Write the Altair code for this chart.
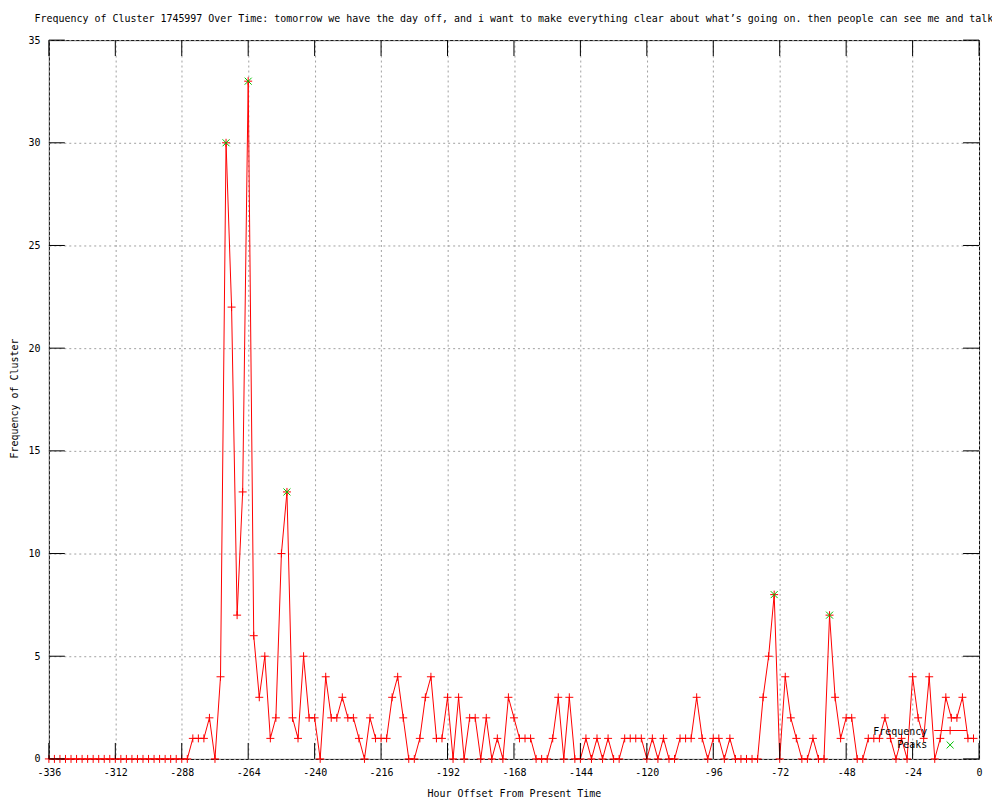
import altair as alt
import pandas as pd

TITLE = ("Frequency of Cluster 1745997 Over Time: tomorrow we have the day off, and i want to make "
         "everything clear about what\u2019s going on. then people can see me and talk")
X_TITLE = "Hour Offset From Present Time"
Y_TITLE = "Frequency of Cluster"

# hour offsets (2-hour bins)
hours = list(range(-336, 0, 2))
frequency = (
    [0] * 26
    + [1, 1, 1, 2, 0, 4, 30, 22, 7, 13]
    + [33, 6, 3, 5, 1, 2, 10, 13, 2, 1]
    + [5, 2, 2, 0, 4, 2, 2, 3, 2, 2]
    + [1, 0, 2, 1, 1, 1, 3, 4, 2, 0]
    + [0, 1, 3, 4, 1, 1, 3, 0, 3, 0]
    + [2, 2, 0, 2, 0, 1, 0, 3, 2, 1]
    + [1, 1, 0, 0, 0, 1, 3, 0, 3, 0]
    + [0, 1, 0, 1, 0, 1, 0, 0, 1, 1]
    + [1, 1, 0, 1, 0, 1, 0, 0, 1, 1]
    + [1, 3, 1, 0, 1, 1, 0, 1, 0, 0]
    + [0, 0, 0, 3, 5, 8, 0, 4, 2, 1]
    + [0, 0, 1, 0, 0, 7, 3, 1, 2, 2]
    + [0, 0, 1, 1, 1, 2, 1, 0, 1, 0]
    + [4, 2, 1, 4, 0, 1, 3, 2, 2, 3, 1, 1]
)
peak_hours = [-272, -264, -250, -74, -54]
peak_values = [30, 33, 13, 8, 7]
x_ticks = [-336, -312, -288, -264, -240, -216, -192, -168, -144, -120, -96, -72, -48, -24, 0]
y_ticks = [0, 5, 10, 15, 20, 25, 30, 35]
legend_labels = ["Frequency", "Peaks"]

W, H = 933, 721
FONT = "DejaVu Sans Mono"
RED = "#ff0000"
GREEN = "#00c000"
GRID = "#a0a0a0"
TICK = 16

df = pd.DataFrame({"hour": hours, "freq": frequency})
peaks = pd.DataFrame({"hour": peak_hours, "freq": peak_values})
xt = pd.DataFrame({"hour": x_ticks})
yt = pd.DataFrame({"freq": y_ticks})
one = pd.DataFrame({"k": [0]})

xscale = alt.Scale(domain=[-336, 0], nice=False, zero=False)
yscale = alt.Scale(domain=[0, 35], nice=False)

xaxis = alt.Axis(
    values=x_ticks, labelExpr="'' + datum.value", title=X_TITLE,
    grid=True, gridDash=[2, 3], gridColor=GRID, gridWidth=1, gridOpacity=1,
    ticks=False, tickSize=0, domain=False, labelOverlap=False, labelFlush=False,
    labelFont=FONT, labelFontSize=10, labelColor="black", labelPadding=9,
    titleFont=FONT, titleFontSize=10, titleFontWeight="normal", titleColor="black",
    titleY=38, titleBaseline="alphabetic",
)
yaxis = alt.Axis(
    values=y_ticks, labelExpr="'' + datum.value", title=Y_TITLE,
    grid=True, gridDash=[2, 3], gridColor=GRID, gridWidth=1, gridOpacity=1,
    ticks=False, tickSize=0, domain=False, labelOverlap=False, labelFlush=False,
    labelFont=FONT, labelFontSize=10, labelColor="black", labelPadding=9,
    titleFont=FONT, titleFontSize=10, titleFontWeight="normal", titleColor="black",
    titleX=-31, titleY=359, titleAngle=270, titleAlign="center", titleBaseline="alphabetic",
)

X = alt.X("hour:Q", scale=xscale, axis=xaxis)
Y = alt.Y("freq:Q", scale=yscale, axis=yaxis)

base = alt.Chart(df)
line = base.mark_line(color=RED, strokeWidth=1, clip=False).encode(x=X, y=Y)
pts = base.mark_point(shape="M-1,0L1,0M0,-1L0,1", size=64, color=RED, filled=False,
                      strokeWidth=1, opacity=1).encode(x=X, y=Y)
pk = alt.Chart(peaks).mark_point(shape="M-1,-1L1,1M-1,1L1,-1", size=49, color=GREEN, filled=False,
                                 strokeWidth=1, opacity=1).encode(x=X, y=Y)

bt = alt.Chart(xt).mark_rule(color="black", strokeWidth=1).encode(
    x=X, y=alt.value(H), y2=alt.value(H - TICK))
tt = alt.Chart(xt).mark_rule(color="black", strokeWidth=1).encode(
    x=X, y=alt.value(0), y2=alt.value(TICK))
lt = alt.Chart(yt).mark_rule(color="black", strokeWidth=1).encode(
    y=Y, x=alt.value(0), x2=alt.value(TICK))
rt = alt.Chart(yt).mark_rule(color="black", strokeWidth=1).encode(
    y=Y, x=alt.value(W), x2=alt.value(W - TICK))

# key (legend) in the lower right corner
t1 = alt.Chart(one).mark_text(text=legend_labels[0], font=FONT, fontSize=10, color="black",
                              align="right", baseline="middle").encode(
    x=alt.value(881), y=alt.value(694))
t2 = alt.Chart(one).mark_text(text=legend_labels[1], font=FONT, fontSize=10, color="black",
                              align="right", baseline="middle").encode(
    x=alt.value(881), y=alt.value(707))
s1 = alt.Chart(one).mark_rule(color=RED, strokeWidth=1).encode(
    x=alt.value(888), x2=alt.value(921), y=alt.value(692.5))
s1p = alt.Chart(one).mark_point(shape="M-1,0L1,0M0,-1L0,1", size=64, color=RED, filled=False,
                                strokeWidth=1, opacity=1).encode(
    x=alt.value(904), y=alt.value(692.5))
s2p = alt.Chart(one).mark_point(shape="M-1,-1L1,1M-1,1L1,-1", size=49, color=GREEN, filled=False,
                                strokeWidth=1, opacity=1).encode(
    x=alt.value(904), y=alt.value(707))

chart = alt.layer(line, pts, pk, bt, tt, lt, rt, s1, s1p, s2p, t1, t2).properties(
    width=W, height=H,
    title=alt.TitleParams(TITLE, font=FONT, fontSize=10, fontWeight="normal", color="black",
                          anchor="middle", frame="group", offset=3, baseline="alphabetic"),
    autosize=alt.AutoSizeParams(type="none"),
    padding={"left": 41, "top": 31, "right": 13, "bottom": 40},
    background="white",
).configure_view(stroke="black", strokeWidth=1)

chart.save("out.html", embed_options={"renderer": "svg", "actions": False})
